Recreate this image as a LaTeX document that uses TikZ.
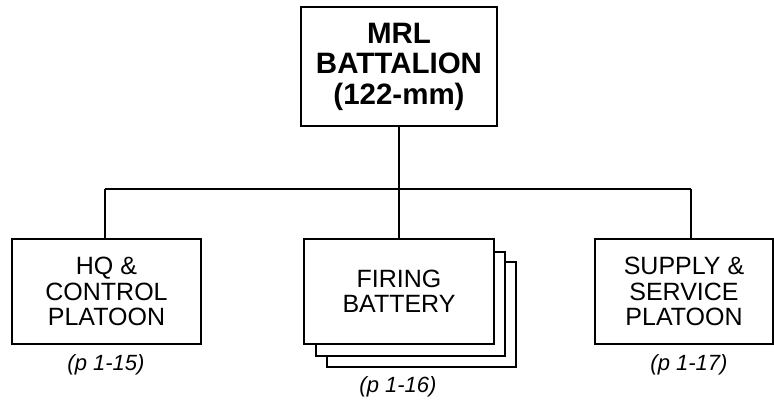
\documentclass[tikz,border=0pt]{standalone}
\usepackage{fontspec}
\setmainfont{Liberation Sans}
\begin{document}
\begin{tikzpicture}[x=1pt,y=-1pt,
  box/.style={draw,line width=1.2pt,fill=white,rectangle,align=center,inner sep=0pt},
  topbox/.style={box,font=\fontsize{29.5}{30.5}\selectfont\bfseries,minimum width=196pt,minimum height=119pt},
  unitbox/.style={box,font=\fontsize{25}{25.5}\selectfont,minimum height=105pt},
  ref/.style={font=\fontsize{22}{24}\selectfont\itshape},
  link/.style={line width=1.2pt}]
\useasboundingbox (0,0) rectangle (774,400);
\node[topbox] (top) at (399,66.5) {MRL\\BATTALION\\(122-mm)};
\node[unitbox,minimum width=189pt] (hq) at (106.5,291.5) {HQ \&\\CONTROL\\PLATOON};
\draw[link,fill=white] (327,262) rectangle (516,367);
\draw[link,fill=white] (316,252) rectangle (505,356);
\node[unitbox,minimum width=190pt] (fire) at (399,291.5) {FIRING\\BATTERY};
\node[unitbox,minimum width=178pt] (sup) at (684,291.5) {SUPPLY \&\\SERVICE\\PLATOON};
\coordinate (bl) at (105,189);
\coordinate (br) at (691,189);
\coordinate (bm) at (399,189);
\draw[link] (top.south) -- (bm);
\draw[link] (bl) -- (br);
\draw[link] (bl) -- (bl |- hq.north);
\draw[link] (br) -- (br |- sup.north);
\draw[link] (bm) -- (fire.north);
\node[ref] (r1) at (106,365) {(p 1-15)};
\node[ref] (r2) at (398,387) {(p 1-16)};
\node[ref] (r3) at (689,365) {(p 1-17)};
\end{tikzpicture}
\end{document}
